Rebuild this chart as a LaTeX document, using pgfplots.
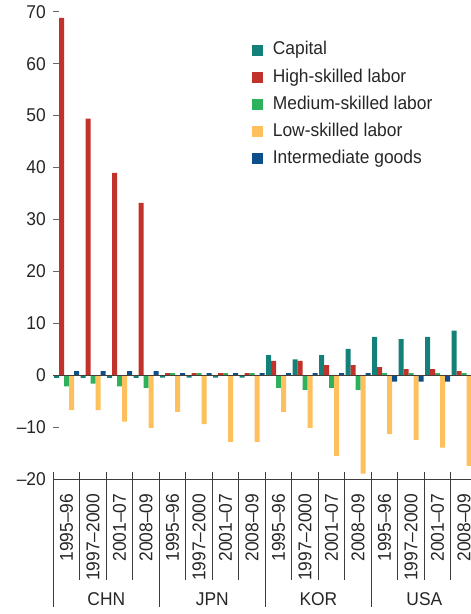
\documentclass[border=0pt]{standalone}
\usepackage{pgfplots}
\pgfplotsset{compat=1.18}
\usepackage{pgfplotstable}
\usepackage{fontspec}
\setmainfont{Liberation Sans}[FakeStretch=0.94]
\definecolor{cCap}{HTML}{13807A}
\definecolor{cHigh}{HTML}{C1322A}
\definecolor{cMed}{HTML}{2EB15B}
\definecolor{cLow}{HTML}{FEC05C}
\definecolor{cInt}{HTML}{0C4F8C}
\definecolor{zeroline}{RGB}{70,62,55}
\definecolor{axisgray}{RGB}{60,60,60}

\pgfplotstableread{
x cap high med low inter
0 -0.5 68.8 -2.1 -6.7 0.8
1 -0.5 49.4 -1.6 -6.7 0.8
2 -0.5 39.0 -2.1 -8.9 0.8
3 -0.5 33.2 -2.4 -10.1 0.8
4 -0.45 0.45 0.45 -7.0 0.45
5 -0.45 0.45 0.45 -9.4 0.45
6 -0.45 0.45 0.45 -12.8 0.45
7 -0.45 0.45 0.45 -12.8 0.45
8 3.9 2.8 -2.4 -7.0 0.45
9 3.1 2.8 -2.8 -10.1 0.45
10 3.9 2.0 -2.4 -15.5 0.45
11 5.1 2.0 -2.8 -18.9 0.45
12 7.4 1.6 0.45 -11.3 -1.2
13 7.0 1.2 0.45 -12.4 -1.2
14 7.4 1.2 0.45 -13.9 -1.2
15 8.6 0.8 0.45 -17.4 -1.2
}\datatable

\begin{document}
\begin{tikzpicture}
\begin{axis}[
  at={(53.3bp,-479.3bp)}, anchor=south west,
  scale only axis, width=417.7bp, height=467.6bp,
  xmin=-0.5, xmax=15.26, ymin=-20, ymax=70,
  axis x line*=bottom, axis y line*=left,
  y axis line style={draw=none},
  x axis line style={line width=1.2bp, draw=axisgray},
  ytick={-20,-10,...,70},
  yticklabels={–20,–10,0,10,20,30,40,50,60,70},
  ytick style={line width=1.2bp, draw=black!60},
  major tick length=6bp,
  ytick align=inside,
  yticklabel shift=4bp,
  xtick={0,...,15},
  xticklabels={1995–96,1997–2000,2001–07,2008–09,1995–96,1997–2000,2001–07,2008–09,1995–96,1997–2000,2001–07,2008–09,1995–96,1997–2000,2001–07,2008–09},
  xtick style={draw=none},
  xticklabel style={rotate=90, anchor=east},
  xticklabel shift=5bp,
  tick label style={font=\fontsize{18.5bp}{22bp}\selectfont, text=black!85},
  ybar=0pt, bar width=0.189,
  clip mode=individual,
  legend image code/.code={\fill[#1] (0bp,-5.5bp) rectangle (11bp,5.5bp);},
  legend cell align=left,
  legend style={at={(rel axis cs:0.475,0.941)}, anchor=north west, draw=none, fill=none,
    inner sep=0pt, row sep=5.7bp,
    /tikz/every odd column/.append style={column sep=8bp},
    font=\fontsize{18.5bp}{22bp}\selectfont,
    nodes={text height=13.5bp, text depth=4bp, text=black!85}},
]
\addplot[draw=none, fill=cCap] table[x=x, y=cap] {\datatable};
\addlegendentry{Capital}
\addplot[draw=none, fill=cHigh] table[x=x, y=high] {\datatable};
\addlegendentry{High-skilled labor}
\addplot[draw=none, fill=cMed] table[x=x, y=med] {\datatable};
\addlegendentry{Medium-skilled labor}
\addplot[draw=none, fill=cLow] table[x=x, y=low] {\datatable};
\addlegendentry{Low-skilled labor}
\addplot[draw=none, fill=cInt] table[x=x, y=inter] {\datatable};
\addlegendentry{Intermediate goods}
\draw[line width=1.6bp, color=zeroline] (axis cs:-0.5,0) -- (axis cs:15.26,0);
\pgfplotsinvokeforeach{0.5,1.5,2.5,4.5,5.5,6.5,8.5,9.5,10.5,12.5,13.5,14.5}{
  \draw[line width=1bp, color=axisgray] (axis cs:#1,-20) ++(0pt,7bp) -- ++(0pt,-107.7bp);
}
\pgfplotsinvokeforeach{-0.5,3.5,7.5,11.5}{
  \draw[line width=1bp, color=axisgray] (axis cs:#1,-20) ++(0pt,7bp) -- ++(0pt,-134.7bp);
}
\node[anchor=base, yshift=-126.4bp, font=\fontsize{18.5bp}{22bp}\selectfont, text=black!85] at (axis cs:1.5,-20) {CHN};
\node[anchor=base, yshift=-126.4bp, font=\fontsize{18.5bp}{22bp}\selectfont, text=black!85] at (axis cs:5.5,-20) {JPN};
\node[anchor=base, yshift=-126.4bp, font=\fontsize{18.5bp}{22bp}\selectfont, text=black!85] at (axis cs:9.5,-20) {KOR};
\node[anchor=base, yshift=-126.4bp, font=\fontsize{18.5bp}{22bp}\selectfont, text=black!85] at (axis cs:13.5,-20) {USA};
\end{axis}
\pgfresetboundingbox
\path[use as bounding box] (0,0) rectangle (471bp,-614bp);
\end{tikzpicture}
\end{document}
